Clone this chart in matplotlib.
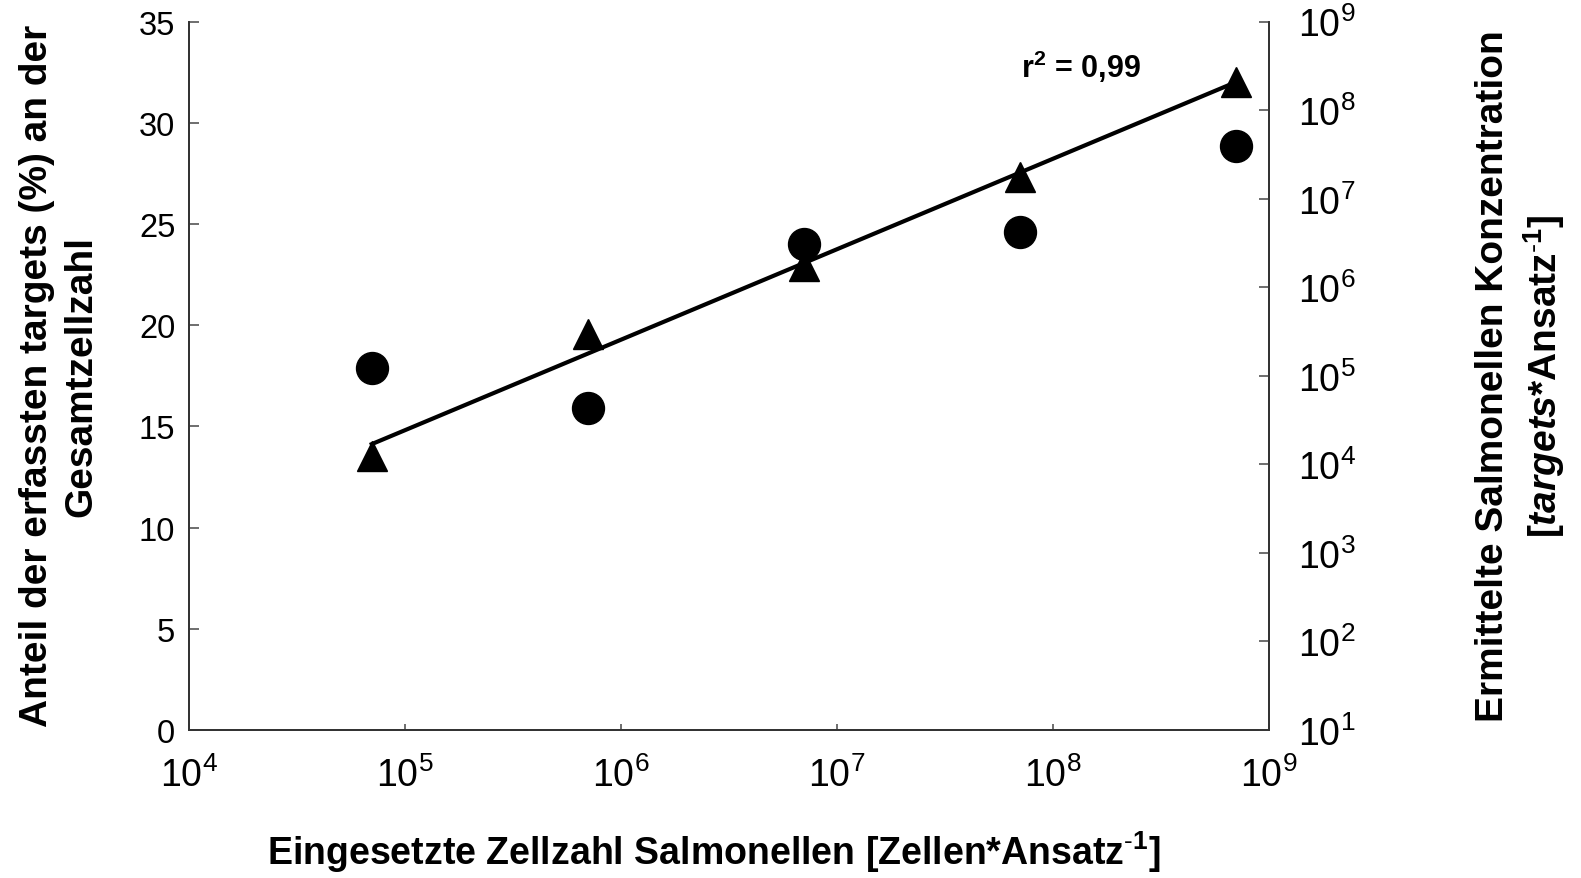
import numpy as np
from matplotlib import pyplot as plt
from matplotlib.ticker import LogLocator, NullLocator

# Dados
zellzahl = [7e4, 7e5, 7e6, 7e7, 7e8]                 # eixo x (log)
anteil_prozent = [17.9, 15.9, 24.0, 24.6, 28.85]     # círculos, eixo esquerdo
konzentration = [1.23e4, 3.0e5, 1.72e6, 1.75e7, 2.07e8]  # triângulos, eixo direito
r2_text = 'r$^{\\mathbf{2}}$ = 0,99'

plt.rcParams['font.family'] = 'Liberation Sans'
plt.rcParams['mathtext.fontset'] = 'custom'
plt.rcParams['mathtext.rm'] = 'Liberation Sans'
plt.rcParams['mathtext.it'] = 'Liberation Sans:italic'
plt.rcParams['mathtext.bf'] = 'Liberation Sans:bold'
plt.rcParams['mathtext.bfit'] = 'Liberation Sans:italic:bold'
plt.rcParams['mathtext.default'] = 'regular'

fig = plt.figure(figsize=(15.81, 8.79), dpi=100)
ax = fig.add_axes([0.1197, 0.1684, 0.6830, 0.8058])
ax2 = ax.twinx()

# Círculos no eixo esquerdo
ax.plot(zellzahl, anteil_prozent, 'o', color='black', markersize=23, zorder=3)

# Triângulos e linha de tendência (potência) no eixo direito
ax2.plot(zellzahl, konzentration, '^', color='black', markersize=22, zorder=4)
coef = np.polyfit(np.log10(zellzahl), np.log10(konzentration), 1)
x_fit = np.logspace(np.log10(zellzahl[0]), np.log10(zellzahl[-1]), 50)
ax2.plot(x_fit, 10 ** np.polyval(coef, np.log10(x_fit)), color='black', lw=3, zorder=3)

ax.set_xscale('log')
ax.set_xlim(1e4, 1e9)
ax.set_ylim(0, 35)
ax.set_yticks(range(0, 36, 5))
ax.xaxis.set_major_locator(LogLocator(base=10, numticks=10))
ax.xaxis.set_minor_locator(NullLocator())

ax2.set_yscale('log')
ax2.set_ylim(1e1, 1e9)
ax2.yaxis.set_major_locator(LogLocator(base=10, numticks=12))
ax2.yaxis.set_minor_locator(NullLocator())

for a in (ax, ax2):
    a.spines['top'].set_visible(False)
    for s in a.spines.values():
        s.set_color('#333333')
        s.set_linewidth(1.3)

ax.tick_params(axis='y', direction='in', length=7, width=1.2, color='#555555',
               labelsize=23.5, pad=10)
ax.tick_params(axis='x', direction='in', length=4, width=1.2, color='#555555',
               labelsize=27, pad=19)
ax2.tick_params(axis='y', direction='in', length=7, width=1.2, color='#555555',
                labelsize=27, pad=21)

# Títulos dos eixos
fig.text(714 / 1581, (879 - 852) / 879,
         'Eingesetzte Zellzahl Salmonellen [Zellen*Ansatz$^{\\text{-}\\mathbf{1}}$]',
         ha='center', va='center', fontsize=27, fontweight='bold')
fig.text(59 / 1581, 0.572,
         'Anteil der erfassten targets (%) an der\nGesamtzellzahl',
         rotation=90, ha='center', va='center', multialignment='center',
         fontsize=28, fontweight='bold', linespacing=1.3)
fig.text(1521 / 1581, 0.572,
         'Ermittelte Salmonellen Konzentration\n[$\\mathbfit{targets}$*Ansatz$^{\\text{-}\\mathbf{1}}$]',
         rotation=90, ha='center', va='center', multialignment='center',
         fontsize=28, fontweight='bold', linespacing=1.3)

fig.text(1021 / 1581, (879 - 78) / 879, r2_text, ha='left', va='baseline',
         fontsize=22, fontweight='bold')

plt.savefig('out.png', dpi=100)
